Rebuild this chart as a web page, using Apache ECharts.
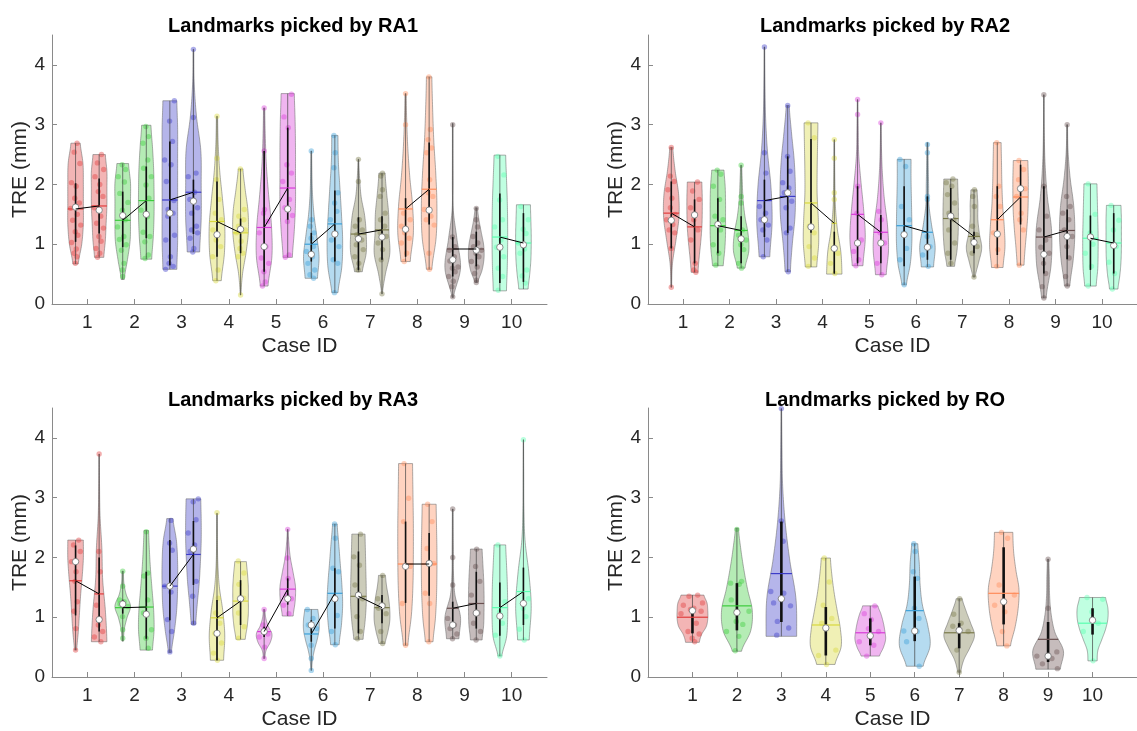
<!DOCTYPE html>
<html><head><meta charset="utf-8">
<script src="https://cdn.jsdelivr.net/npm/echarts@6/dist/echarts.min.js"></script>
<style>html,body{margin:0;padding:0;background:#fff}#c{width:1137px;height:731px}</style>
</head><body><div id="c"></div>
<script>
// ---------------- DATA ----------------
const caseIds = [1,2,3,4,5,6,7,8,9,10];
const yTicks = [0,1,2,3,4];
const panelTitles = ['Landmarks picked by RA1','Landmarks picked by RA2','Landmarks picked by RA3','Landmarks picked by RO'];
const caseColors = ['#e03c3c','#3ccc3c','#3c3cc8','#d8d83c','#d83cd8','#3ca0d8','#7a7a4a','#ff8c5a','#6a5050','#5affb0'];
// stats per violin: [min, max, q1, q3, median, mean]
const RA1_first = [[0.67,2.69,1.04,2.02,1.62,1.59],[0.41,2.35,0.95,1.88,1.48,1.40],[0.58,3.40,0.65,2.72,1.52,1.74],[0.39,3.14,0.79,2.05,1.16,1.38],[0.30,3.28,0.54,2.56,0.96,1.28],[0.43,2.56,0.71,1.19,0.83,1.00],[0.54,2.42,0.57,1.45,1.09,1.17],[0.71,3.52,0.79,1.77,1.25,1.59],[0.11,3.02,0.46,1.12,0.74,0.92],[0.22,2.49,0.35,1.85,0.95,1.12]];
const RA1_second = [[0.78,2.50,1.18,2.10,1.57,1.64],[0.75,2.99,1.10,2.30,1.50,1.73],[0.87,4.26,1.17,2.08,1.72,1.87],[0.15,2.26,0.85,1.43,1.25,1.19],[0.78,3.52,1.41,2.95,1.59,1.94],[0.19,2.82,0.71,1.90,1.17,1.34],[0.17,2.19,0.74,1.47,1.12,1.24],[0.58,3.80,1.33,2.70,1.57,1.92],[0.36,1.61,0.63,1.21,0.90,0.92],[0.25,1.66,0.37,1.52,0.99,1.02]];
const RA2_first = [[0.28,2.62,0.93,2.05,1.40,1.52],[0.64,2.24,0.85,1.77,1.33,1.31],[0.79,4.30,1.12,2.08,1.41,1.73],[0.62,3.03,1.19,2.76,1.29,1.69],[0.64,3.42,0.68,1.97,1.02,1.50],[0.32,2.42,0.63,1.97,1.16,1.31],[0.63,2.09,0.74,1.94,1.47,1.43],[0.61,2.70,0.82,1.97,1.17,1.41],[0.10,3.50,0.51,1.97,0.83,1.12],[0.30,2.01,0.57,1.48,1.12,1.10]];
const RA2_second = [[0.53,2.04,0.68,1.75,1.49,1.29],[0.60,2.32,0.68,1.47,1.09,1.23],[0.54,3.32,1.19,2.47,1.86,1.80],[0.50,2.75,0.51,1.21,0.93,1.35],[0.49,3.03,0.68,1.49,1.02,1.20],[0.62,2.70,0.74,1.80,0.95,1.20],[0.45,1.91,0.85,1.21,1.03,1.13],[0.65,2.40,1.33,2.33,1.93,1.79],[0.30,3.00,0.75,1.58,1.13,1.23],[0.25,1.65,0.51,1.52,0.98,1.02]];
const RA3_first = [[0.45,2.29,1.03,2.20,1.93,1.61],[0.60,1.77,1.06,1.29,1.22,1.16],[0.41,2.65,0.95,2.29,1.52,1.52],[0.28,2.74,0.28,1.29,0.73,0.99],[0.31,1.13,0.67,0.84,0.76,0.76],[0.11,1.13,0.59,0.95,0.87,0.72],[0.63,2.39,0.73,2.10,1.37,1.35],[0.53,3.57,1.24,2.60,1.85,1.89],[0.64,2.81,0.81,1.26,0.87,1.15],[0.35,2.21,0.69,1.58,1.02,1.16]];
const RA3_second = [[0.59,3.73,0.76,2.00,0.96,1.39],[0.45,2.45,0.64,1.76,1.05,1.17],[0.88,2.98,1.54,2.61,2.14,2.05],[0.63,1.93,0.87,1.62,1.31,1.27],[1.02,2.47,1.21,1.65,1.31,1.47],[0.54,2.56,0.81,1.82,1.31,1.40],[0.56,1.70,0.90,1.37,1.19,1.16],[0.59,2.89,1.36,2.41,1.90,1.89],[0.62,2.14,0.81,1.76,1.07,1.23],[0.62,3.97,0.87,1.83,1.23,1.43]];
const RO_stats = [[0.58,1.37,0.73,1.15,1.11,1.00],[0.43,2.49,0.78,1.57,1.08,1.19],[0.68,4.49,0.92,2.60,1.31,1.73],[0.21,1.99,0.36,1.17,0.82,0.87],[0.35,1.19,0.53,0.98,0.69,0.74],[0.18,2.23,0.60,1.68,0.77,1.11],[0.08,1.31,0.48,0.90,0.78,0.74],[0.52,2.42,0.88,2.17,1.26,1.40],[0.13,1.97,0.25,0.92,0.35,0.63],[0.27,1.33,0.71,1.15,0.95,0.90]];
// relative violin widths at 7 evenly spaced levels from min (first) to max (last)
const RA1_first_shape = [[0.35,0.8,1,1,1,0.95,0.6],[0.2,0.6,0.95,1,1,1,0.75],[0.9,1,1,1,1,1,0.9],[0.55,0.95,1,0.7,0.35,0.15,0.08],[0.5,1,0.95,0.6,0.3,0.15,0.08],[0.8,1,0.7,0.35,0.15,0.08,0.05],[0.5,1,1,0.8,0.35,0.15,0.05],[0.6,1,0.9,0.55,0.3,0.15,0.08],[0.1,1,0.55,0.08,0.05,0.04,0.04],[0.85,0.95,1,1,0.95,0.85,0.75]];
const RA1_second_shape = [[0.6,0.8,0.9,1,1,1,0.8],[0.7,0.9,1,1,0.95,0.8,0.6],[0.8,1,1,0.95,0.4,0.1,0.05],[0.05,0.25,0.7,1,0.95,0.6,0.3],[0.6,0.85,1,1,1,0.95,0.85],[0.4,0.9,1,0.85,0.65,0.45,0.4],[0.05,0.45,1,0.9,0.85,0.6,0.4],[0.35,0.9,1,0.85,0.6,0.45,0.35],[0.2,0.75,1,0.95,0.65,0.35,0.15],[0.6,0.8,0.95,1,1,0.95,0.9]];
const RA2_first_shape = [[0.05,0.15,0.6,1,0.95,0.5,0.2],[0.7,0.9,1,1,1,0.95,0.8],[0.7,1,0.85,0.4,0.15,0.07,0.04],[0.75,1,0.95,0.8,0.8,0.85,0.9],[0.7,1,0.8,0.45,0.15,0.08,0.04],[0.3,0.8,1,1,0.95,0.9,0.9],[0.5,0.8,0.95,1,1,0.95,0.9],[0.75,1,0.9,0.7,0.6,0.55,0.5],[0.3,0.95,1,0.45,0.15,0.05,0.03],[0.75,0.95,1,1,0.95,0.9,0.85]];
const RA2_second_shape = [[0.45,0.6,0.8,0.95,1,1,0.95],[0.5,1,0.9,0.5,0.25,0.15,0.08],[0.35,0.6,0.95,1,0.85,0.5,0.2],[1,0.85,0.4,0.15,0.08,0.05,0.04],[0.7,1,0.85,0.45,0.2,0.08,0.04],[0.8,1,0.55,0.2,0.15,0.1,0.08],[0.15,0.6,1,0.7,0.5,0.5,0.4],[0.45,0.6,0.8,0.95,1,1,0.95],[0.35,0.8,1,0.85,0.4,0.12,0.05],[0.55,0.8,0.95,1,1,1,0.95]];
const RA3_first_shape = [[0.15,0.35,0.5,0.65,0.85,1,1],[0.1,0.2,0.55,1,0.45,0.15,0.1],[0.2,0.6,0.9,1,1,0.85,0.4],[0.85,1,0.75,0.3,0.1,0.05,0.03],[0.1,0.25,0.8,1,0.5,0.2,0.1],[0.05,0.15,0.4,0.75,1,1,0.85],[0.6,0.85,1,1,0.95,0.9,0.85],[0.3,0.75,0.95,1,1,0.95,0.9],[0.8,1,0.3,0.1,0.08,0.06,0.05],[0.25,0.85,1,1,0.95,0.85,0.75]];
const RA3_second_shape = [[1,0.8,0.45,0.35,0.12,0.05,0.03],[0.8,1,0.95,0.75,0.55,0.4,0.3],[0.3,0.5,0.75,0.9,1,1,0.95],[0.6,0.85,1,1,1,0.9,0.75],[0.7,0.95,1,0.7,0.35,0.15,0.05],[0.55,0.85,1,0.9,0.7,0.5,0.3],[0.4,0.75,1,1,0.85,0.6,0.45],[0.5,0.8,0.95,1,1,0.95,0.9],[0.75,0.95,1,1,0.95,0.85,0.75],[0.75,1,0.7,0.2,0.06,0.04,0.02]];
const RO_shape = [[0.45,0.6,0.9,1,1,0.95,0.75],[0.3,0.9,1,0.7,0.45,0.25,0.1],[1,0.95,0.55,0.25,0.08,0.04,0.02],[0.6,1,0.95,0.75,0.55,0.4,0.3],[0.6,0.85,1,0.95,0.85,0.7,0.5],[0.55,1,0.85,0.5,0.35,0.3,0.2],[0.1,0.3,0.7,1,0.75,0.45,0.2],[0.45,0.75,0.95,1,0.8,0.65,0.6],[0.8,1,0.45,0.2,0.1,0.08,0.05],[0.3,0.35,0.6,0.85,1,1,0.85]];
// individual landmark TRE values (mm) shown as dots
const RA1_first_pts = [[2.69,2.54,2.35,2.03,1.97,1.77,1.69,1.6,1.5,1.4,1.32,1.21,1.15,1.03,0.92,0.85,0.79,0.68],[2.33,2.25,2.13,2.04,1.85,1.7,1.57,1.41,1.29,1.13,1.08,0.99,0.9,0.68,0.57,0.46],[3.4,3.06,2.72,2.41,2.33,2.05,1.73,1.58,1.52,1.47,1.15,1.07,0.79,0.68,0.63,0.58],[3.14,2.44,2.08,1.75,1.52,1.41,1.24,1.16,1.07,0.96,0.79,0.57,0.39],[3.28,2.56,1.58,1.52,1.38,1.19,0.96,0.77,0.68,0.54,0.37,0.3],[2.56,1.41,1.3,1.19,1.1,0.96,0.88,0.79,0.68,0.57,0.49,0.43],[2.42,2.05,1.41,1.3,1.24,1.16,1.07,0.99,0.91,0.79,0.68,0.57],[3.52,3.0,1.52,1.41,1.3,1.24,1.19,1.1,1.02,0.85,0.71],[3.0,1.12,0.96,0.9,0.79,0.72,0.62,0.6,0.54,0.46,0.38,0.29,0.12],[2.47,2.16,1.74,1.41,1.29,1.07,0.95,0.79,0.6,0.46,0.23]];
const RA1_second_pts = [[2.5,2.36,2.25,2.13,2.0,1.88,1.8,1.61,1.47,1.35,1.27,1.13,1.05,0.93,0.85,0.78],[2.97,2.8,2.69,2.41,2.27,2.13,1.99,1.77,1.57,1.46,1.2,1.13,1.04,0.82,0.76],[4.26,3.12,2.19,2.13,1.87,1.75,1.61,1.52,1.3,1.24,1.19,1.1,0.93,0.87],[2.26,1.58,1.47,1.41,1.3,1.24,1.19,1.05,0.93,0.85,0.79,0.15],[3.51,3.13,2.95,2.33,2.19,2.05,1.75,1.61,1.48,1.38,0.82,0.78],[2.82,2.53,2.28,1.86,1.69,1.55,1.41,1.19,1.07,0.96,0.74,0.68,0.19],[2.19,2.14,1.91,1.8,1.52,1.41,1.3,1.19,1.13,1.02,0.91,0.74,0.17],[3.8,2.92,2.75,2.61,2.53,2.08,1.86,1.8,1.58,1.47,1.41,1.32,0.85,0.58],[1.6,1.41,1.29,1.13,1.02,0.96,0.9,0.85,0.79,0.71,0.62,0.51,0.4,0.36],[1.63,1.41,1.25,1.18,1.02,0.92,0.85,0.57,0.47,0.35]];
const RA2_first_pts = [[2.62,2.14,2.05,1.91,1.77,1.61,1.5,1.41,1.33,1.24,1.19,0.93,0.28],[2.24,2.17,1.97,1.75,1.47,1.41,1.33,1.24,0.99,0.85,0.65],[4.3,2.53,2.19,1.63,1.52,1.41,1.32,1.24,1.07,0.79],[3.03,2.78,1.3,1.19,0.96,0.77,0.63],[3.42,3.17,1.97,1.52,1.07,0.88,0.74,0.64],[2.42,2.3,1.63,1.41,1.19,0.93,0.74,0.32],[2.09,2.03,1.97,1.83,1.69,1.52,1.41,1.24,1.02,0.85,0.68],[2.7,1.97,1.8,1.63,1.19,0.91,0.63],[3.5,1.97,1.47,1.24,1.07,0.95,0.85,0.68,0.51,0.29,0.1],[2.01,1.5,1.19,1.0,0.85,0.63,0.3]];
const RA2_second_pts = [[2.04,1.89,1.75,1.61,1.5,1.41,1.24,1.07,0.68,0.57,0.53],[2.32,1.8,1.69,1.24,1.15,1.07,0.99,0.91,0.68,0.6],[3.32,2.47,2.22,2.03,1.94,1.86,1.72,1.61,1.27,1.19,0.54],[2.75,2.44,1.86,1.75,0.93,0.85,0.68,0.51],[3.03,1.55,1.41,1.19,1.02,0.68,0.49],[2.67,2.53,1.8,1.75,1.13,0.96,0.82,0.63],[1.91,1.8,1.63,1.3,1.16,1.07,0.96,0.85,0.45],[2.4,2.25,2.08,1.93,1.8,1.52,1.41,1.24,0.65],[3.0,1.8,1.63,1.52,1.41,1.24,1.13,0.96,0.77,0.46,0.3],[1.65,1.4,1.24,0.96,0.7,0.51,0.25]];
const RA3_first_pts = [[2.29,2.21,2.1,1.93,1.76,1.6,1.26,1.1,0.81,0.45],[1.77,1.52,1.29,1.26,1.22,1.18,1.01,0.79,0.65],[2.62,2.24,2.12,1.52,1.42,0.96,0.76,0.42],[2.75,1.32,1.07,0.9,0.73,0.57,0.4,0.28],[1.13,0.87,0.8,0.76,0.72,0.67,0.5,0.31],[1.13,0.98,0.87,0.81,0.53,0.31,0.11],[2.39,2.01,1.87,1.54,1.31,1.01,0.76,0.64],[3.57,2.99,2.6,1.85,1.23,0.53],[2.81,2.0,1.54,0.98,0.87,0.81,0.72,0.64],[2.21,1.26,1.09,0.9,0.7,0.35]];
const RA3_second_pts = [[3.73,2.1,1.76,1.2,0.98,0.87,0.76,0.67,0.59],[2.43,1.74,1.69,1.29,1.07,0.79,0.65,0.48],[2.98,2.93,2.63,2.41,2.21,2.1,1.6,1.35,0.9],[1.94,1.74,1.55,1.32,1.07,0.84,0.65],[2.47,1.99,1.65,1.37,1.31,1.2,1.06],[2.56,2.32,1.82,1.76,1.31,1.03,0.76,0.54],[1.7,1.31,1.2,1.15,1.06,0.76,0.56],[2.89,2.6,2.15,1.9,1.4,1.23,0.59],[2.14,1.85,1.6,1.37,1.07,0.9,0.76,0.62],[3.97,1.31,1.15,1.01,0.8,0.62]];
const RO_pts = [[1.37,1.35,1.24,1.2,1.15,1.13,1.1,1.06,0.9,0.76,0.72,0.65,0.59],[2.47,1.6,1.57,1.55,1.29,1.1,0.93,0.88,0.76,0.68,0.44],[4.49,2.61,2.27,1.43,1.4,1.24,1.19,0.93,0.82,0.7],[1.99,1.59,1.2,0.98,0.9,0.45,0.36,0.21],[1.19,1.06,0.96,0.81,0.76,0.59,0.53,0.35],[2.23,2.1,1.76,1.65,1.15,0.98,0.77,0.76,0.59,0.18],[1.31,1.05,0.9,0.85,0.76,0.45,0.08],[2.42,2.32,1.54,1.37,1.2,1.09,0.76,0.52],[1.97,1.15,0.42,0.35,0.31,0.22,0.14],[1.33,1.3,1.09,0.9,0.76,0.27]];

// ---------------- RENDER ----------------
const FONT = '"Liberation Sans", Arial, Helvetica, sans-serif';
const JITTER = [0.55,-0.35,0.8,-0.7,0.1,-0.15,0.65,-0.85,0.3,-0.5,0.9,-0.05,0.45,-0.9,0.2,-0.6,0.7,-0.3];
const chart = echarts.init(document.getElementById('c'));

function profileAt(shape, t) {
  const n = shape.length - 1;
  const f = Math.max(0, Math.min(1, t)) * n;
  let i = Math.floor(f); if (i >= n) i = n - 1;
  const u = f - i;
  const p0 = shape[Math.max(i-1,0)], p1 = shape[i], p2 = shape[i+1], p3 = shape[Math.min(i+2,n)];
  const u2 = u*u, u3 = u2*u;
  const v = 0.5*((2*p1) + (-p0+p2)*u + (2*p0-5*p1+4*p2-p3)*u2 + (-p0+3*p1-3*p2+p3)*u3);
  return Math.max(0.02, Math.min(1.05, v));
}

// item layout: [x, caseIndex, min, max, q1, q3, median, mean, s0..s6, nPts, p0..pn]
function violinItems(stats, shapes, pts, offset) {
  return stats.map((s, i) => [caseIds[i] + offset, i].concat(s, shapes[i], [pts[i].length], pts[i]));
}

function makeRender(hwUnits, boxWidth) {
  return function (params, api) {
    const x = api.value(0), ci = api.value(1);
    const mn = api.value(2), mx = api.value(3), q1 = api.value(4), q3 = api.value(5), md = api.value(6), mean = api.value(7);
    const shape = []; for (let k = 0; k < 7; k++) shape.push(api.value(8 + k));
    const np = api.value(15);
    const unit = api.size([1, 0])[0];
    const hw = hwUnits * unit;
    const cx = api.coord([x, mn])[0];
    const N = 70, right = [], left = [];
    for (let k = 0; k <= N; k++) {
      const t = k / N, y = mn + t * (mx - mn);
      const py = api.coord([x, y])[1];
      const w = profileAt(shape, t) * hw;
      right.push([cx + w, py]); left.unshift([cx - w, py]);
    }
    const col = caseColors[ci];
    const children = [
      { type: 'polygon', shape: { points: right.concat(left) }, style: { fill: echarts.color.modifyAlpha(col, 0.38), stroke: 'rgba(110,110,110,0.7)', lineWidth: 0.8 } }
    ];
    const dotFill = echarts.color.modifyAlpha(col, 0.42);
    for (let k = 0; k < np; k++) {
      const v = api.value(16 + k);
      const w = profileAt(shape, (v - mn) / (mx - mn)) * hw;
      const jx = JITTER[(k + ci * 5) % JITTER.length] * Math.max(w - 2, 0);
      children.push({ type: 'circle', shape: { cx: cx + jx, cy: api.coord([x, v])[1], r: 2.7 }, style: { fill: dotFill } });
    }
    const wm = profileAt(shape, (mean - mn) / (mx - mn)) * hw;
    const pm = api.coord([x, mean])[1];
    const pmin = api.coord([x, mn])[1], pmax = api.coord([x, mx])[1];
    const pq1 = api.coord([x, q1])[1], pq3 = api.coord([x, q3])[1];
    const pmd = api.coord([x, md])[1];
    children.push(
      { type: 'line', shape: { x1: cx, y1: pmin, x2: cx, y2: pmax }, style: { stroke: '#444', lineWidth: 0.7 } },
      { type: 'line', shape: { x1: cx, y1: pq1, x2: cx, y2: pq3 }, style: { stroke: '#111', lineWidth: boxWidth } },
      { type: 'line', shape: { x1: cx - wm, y1: pm, x2: cx + wm, y2: pm }, style: { stroke: col, lineWidth: 1.2 } },
      { type: 'circle', shape: { cx: cx, cy: pmd, r: 3.2 }, style: { fill: '#fff', stroke: '#707070', lineWidth: 0.8 } }
    );
    return { type: 'group', children: children };
  };
}

function linkItems(a, b) { return caseIds.map((c, i) => [c, a[i][5], b[i][5]]); }
function renderLink(params, api) {
  const c = api.value(0);
  const p1 = api.coord([c - 0.25, api.value(1)]), p2 = api.coord([c + 0.25, api.value(2)]);
  return { type: 'line', shape: { x1: p1[0], y1: p1[1], x2: p2[0], y2: p2[1] }, style: { stroke: '#000', lineWidth: 1 } };
}

const grids = [
  { left: 52, top: 35, width: 495, height: 269 },
  { left: 648, top: 35, width: 493, height: 269 },
  { left: 52, top: 408, width: 495, height: 269 },
  { left: 648, top: 408, width: 495, height: 269 }
];
const axisCol = '#8a8a8a';
function xAxis(i, mn, mx) {
  return { type: 'value', gridIndex: i, min: mn, max: mx, name: 'Case ID', nameLocation: 'middle', nameGap: 32,
    nameTextStyle: { fontFamily: FONT, fontSize: 21, color: '#262626' },
    axisLine: { lineStyle: { color: axisCol, width: 1 } },
    axisTick: { inside: true, length: 5, customValues: caseIds, lineStyle: { color: axisCol } },
    axisLabel: { customValues: caseIds, fontFamily: FONT, fontSize: 19, color: '#262626', margin: 9 },
    splitLine: { show: false } };
}
function yAxis(i) {
  return { type: 'value', gridIndex: i, min: 0, max: 4.5, name: 'TRE (mm)', nameLocation: 'middle', nameGap: 20, nameRotate: 90,
    nameTextStyle: { fontFamily: FONT, fontSize: 21, color: '#262626' },
    axisLine: { show: true, lineStyle: { color: axisCol, width: 1 } },
    axisTick: { show: true, inside: true, length: 5, customValues: yTicks, lineStyle: { color: axisCol } },
    axisLabel: { customValues: yTicks, fontFamily: FONT, fontSize: 19, color: '#262626', margin: 7 },
    splitLine: { show: false } };
}

const pairs = [
  [RA1_first, RA1_first_shape, RA1_first_pts, RA1_second, RA1_second_shape, RA1_second_pts],
  [RA2_first, RA2_first_shape, RA2_first_pts, RA2_second, RA2_second_shape, RA2_second_pts],
  [RA3_first, RA3_first_shape, RA3_first_pts, RA3_second, RA3_second_shape, RA3_second_pts]
];
const series = [];
pairs.forEach((p, gi) => {
  series.push({ type: 'custom', xAxisIndex: gi, yAxisIndex: gi, clip: false, renderItem: makeRender(0.165, 1.6), data: violinItems(p[0], p[1], p[2], -0.25), z: 2 });
  series.push({ type: 'custom', xAxisIndex: gi, yAxisIndex: gi, clip: false, renderItem: makeRender(0.165, 1.6), data: violinItems(p[3], p[4], p[5], 0.25), z: 2 });
  series.push({ type: 'custom', xAxisIndex: gi, yAxisIndex: gi, clip: false, renderItem: renderLink, data: linkItems(p[0], p[3]), z: 3 });
});
series.push({ type: 'custom', xAxisIndex: 3, yAxisIndex: 3, clip: false, renderItem: makeRender(0.345, 2.6), data: violinItems(RO_stats, RO_shape, RO_pts, 0), z: 2 });

const titleX = [288, 880, 288, 880];
const titles = grids.map((g, i) => ({ text: panelTitles[i], left: titleX[i], top: i < 2 ? 11 : 385, textAlign: 'center',
  textStyle: { fontFamily: FONT, fontSize: 20, fontWeight: 'bold', color: '#000' } }));

chart.setOption({
  animation: false,
  backgroundColor: '#fff',
  title: titles,
  grid: grids,
  xAxis: [xAxis(0, 0.25, 10.75), xAxis(1, 0.25, 10.75), xAxis(2, 0.25, 10.75), xAxis(3, 0, 11)],
  yAxis: [yAxis(0), yAxis(1), yAxis(2), yAxis(3)],
  series: series
});
</script></body></html>
